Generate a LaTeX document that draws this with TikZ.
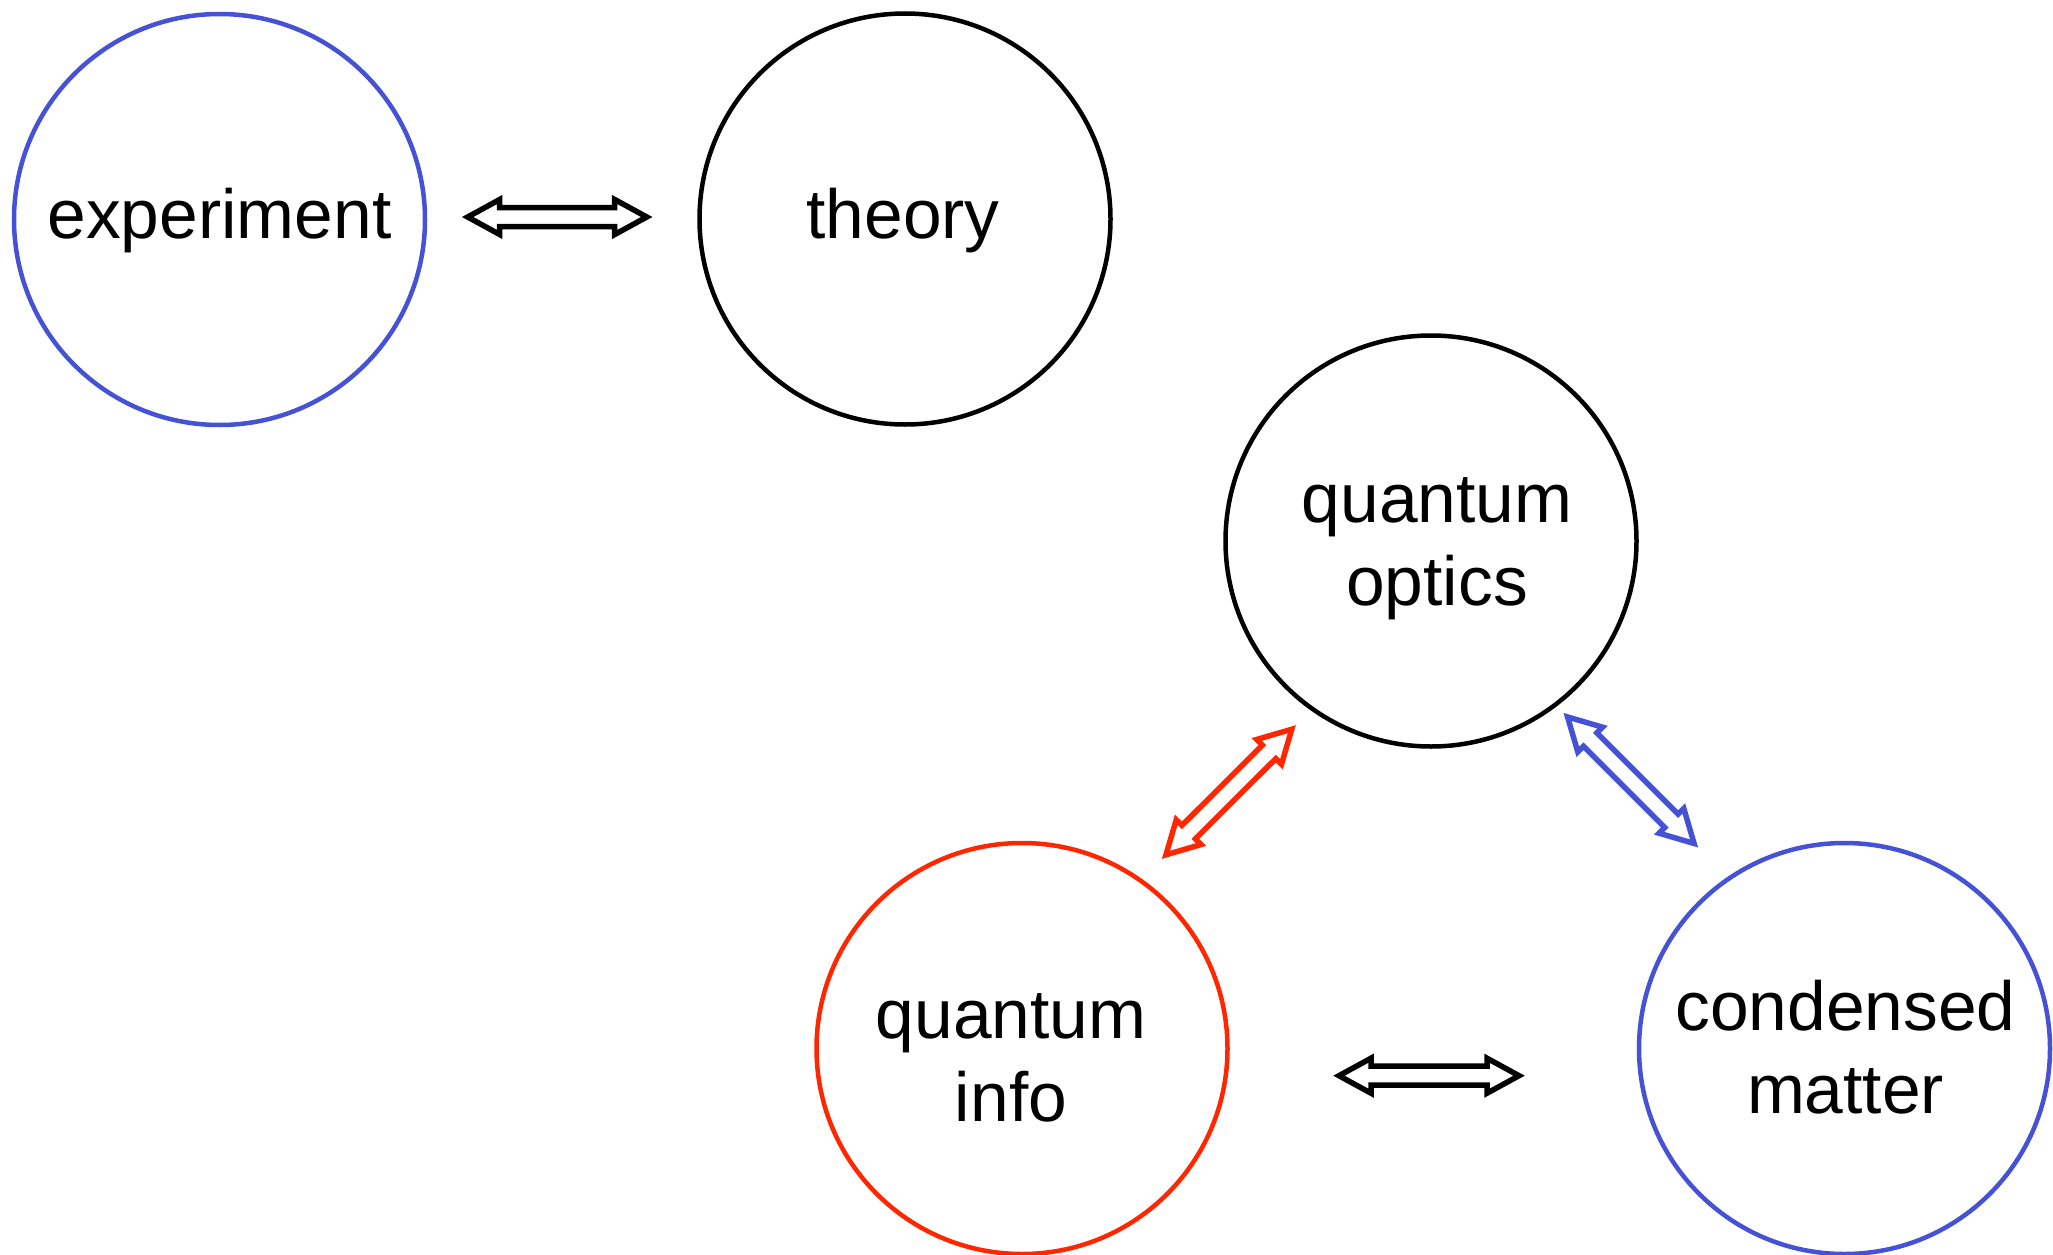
\documentclass[tikz,border=0pt]{standalone}
\usepackage{fontspec}
\setmainfont{Liberation Sans}
\usetikzlibrary{calc}
\definecolor{cblue}{RGB}{70,82,214}
\definecolor{cred}{RGB}{255,38,0}
\newcommand\twol[2]{\begin{tabular}[t]{@{}c@{}}#1\\#2\end{tabular}}
\tikzset{
  circ/.style={circle, draw, line width=4.5pt, minimum size=411pt, inner sep=0pt},
  lbl/.style={anchor=base, inner sep=0pt, font=\fontsize{69.5}{83}\selectfont},
  dblarrow/.style={draw, line width=5.5pt, fill=white, miter limit=10,
    to path={
      ($(\tikztostart)!6pt!(\tikztotarget)$)
      -- ($(\tikztostart)!38pt!(\tikztotarget)!17.5pt!90:(\tikztotarget)$)
      -- ($(\tikztostart)!38pt!(\tikztotarget)!9.5pt!90:(\tikztotarget)$)
      -- ($(\tikztotarget)!38pt!(\tikztostart)!9.5pt!-90:(\tikztostart)$)
      -- ($(\tikztotarget)!38pt!(\tikztostart)!17.5pt!-90:(\tikztostart)$)
      -- ($(\tikztotarget)!6pt!(\tikztostart)$)
      -- ($(\tikztotarget)!38pt!(\tikztostart)!17.5pt!90:(\tikztostart)$)
      -- ($(\tikztotarget)!38pt!(\tikztostart)!9.5pt!90:(\tikztostart)$)
      -- ($(\tikztostart)!38pt!(\tikztotarget)!9.5pt!-90:(\tikztotarget)$)
      -- ($(\tikztostart)!38pt!(\tikztotarget)!17.5pt!-90:(\tikztotarget)$)
      -- cycle}}
}
\begin{document}
\begin{tikzpicture}[x=1pt, y=-1pt]
\useasboundingbox (0,0) rectangle (2053,1255);
% circles
\node[circ, draw=cblue] (exp) at (219.5,219.5) {};
\node[circ, draw=black] (thy) at (905,219) {};
\node[circ, draw=black] (qo) at (1431,541) {};
\node[circ, draw=cred] (qi) at (1022,1048.5) {};
\node[circ, draw=cblue] (cm) at (1844.5,1048.5) {};
% labels
\node[lbl] (expT) at (219.5,238) {experiment};
\node[lbl] (thyT) at (903,238) {theory};
\node[lbl] (qoT) at (1437,522.7) {\twol{quantum}{optics}};
\node[lbl] (qiT) at (1011,1038) {\twol{quantum}{info}};
\node[lbl] (cmT) at (1845.5,1030) {\twol{condensed}{matter}};
% arrow ends
\coordinate (a1) at (461.7,217);
\coordinate (a2) at (652.7,217);
\coordinate (b1) at (1333,1075.7);
\coordinate (b2) at (1525,1075.7);
\coordinate (r1) at (1161.7,859);
\coordinate (r2) at (1296,725);
\coordinate (u1) at (1563.3,712.7);
\coordinate (u2) at (1698.3,847.7);
% arrows
\draw[dblarrow, draw=black] (a1) to (a2);
\draw[dblarrow, draw=black] (b1) to (b2);
\draw[dblarrow, draw=cred] (r1) to (r2);
\draw[dblarrow, draw=cblue] (u1) to (u2);
\end{tikzpicture}
\end{document}
